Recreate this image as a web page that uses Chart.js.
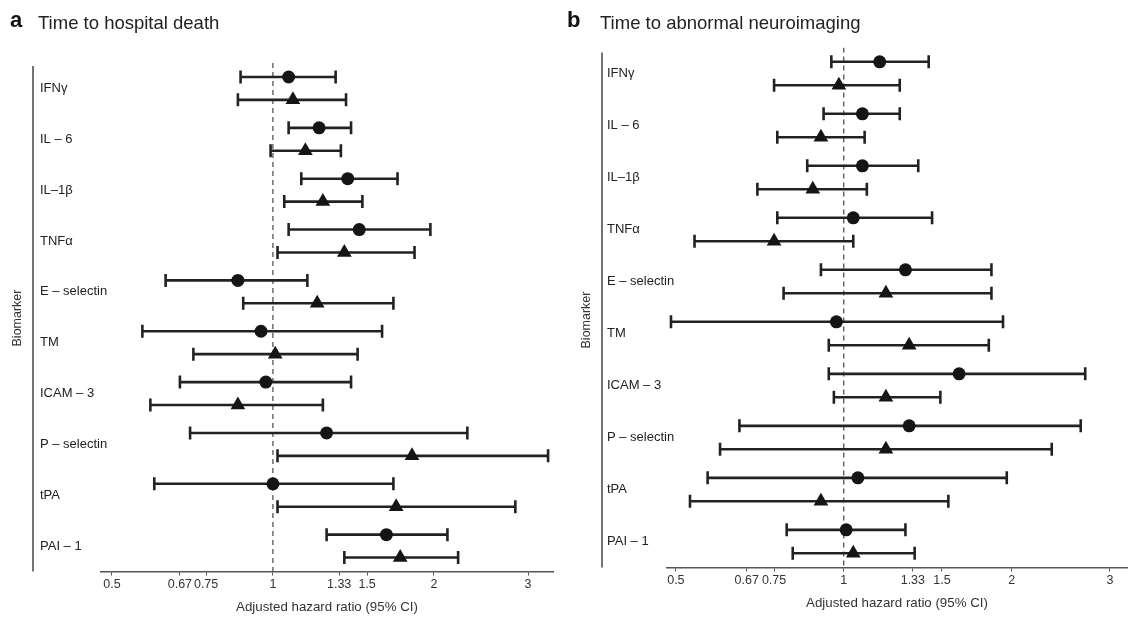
<!DOCTYPE html>
<html><head><meta charset="utf-8">
<script src="https://cdn.jsdelivr.net/npm/chart.js@4"></script>
<style>
html,body{margin:0;padding:0;background:#fff;}
body{width:1129px;height:617px;position:relative;overflow:hidden;font-family:"Liberation Sans",Arial,sans-serif;}
.panel{position:absolute;top:0;height:617px;}
#pa{left:0;width:560px;}
#pb{left:560px;width:569px;}
.lbl{position:absolute;font-weight:bold;font-size:22px;color:#111;line-height:1;}
.ttl{position:absolute;font-size:18.5px;color:#222;line-height:1;}
</style></head>
<body>
<div class="panel" id="pa"><canvas id="ca"></canvas></div>
<div class="panel" id="pb"><canvas id="cb"></canvas></div>
<div class="lbl" style="left:10px;top:9px">a</div>
<div class="ttl" style="left:38px;top:14px">Time to hospital death</div>
<div class="lbl" style="left:567px;top:9px">b</div>
<div class="ttl" style="left:600px;top:14px">Time to abnormal neuroimaging</div>
<script>
const biomarkers = ['IFNγ','IL – 6','IL–1β','TNFα','E – selectin','TM','ICAM – 3','P – selectin','tPA','PAI – 1'];
const tickValues = [0.5,0.67,0.75,1,1.33,1.5,2,3];
const tickLabels = ['0.5','0.67','0.75','1','1.33','1.5','2','3'];
const yTitle = 'Biomarker';
const xTitle = 'Adjusted hazard ratio (95% CI)';
const refValue = 1;

// Panel a: Time to hospital death
const deathCircleHR = [1.07,1.22,1.38,1.45,0.86,0.95,0.97,1.26,1.00,1.63];
const deathCircleLo = [0.87,1.07,1.13,1.07,0.63,0.57,0.67,0.70,0.60,1.26];
const deathCircleHi = [1.31,1.40,1.71,1.97,1.16,1.60,1.40,2.31,1.68,2.12];
const deathTriHR    = [1.09,1.15,1.24,1.36,1.21,1.01,0.86,1.82,1.70,1.73];
const deathTriLo    = [0.86,0.99,1.05,1.02,0.88,0.71,0.59,1.02,1.02,1.36];
const deathTriHi    = [1.37,1.34,1.47,1.84,1.68,1.44,1.24,3.27,2.84,2.22];

// Panel b: Time to abnormal neuroimaging
const neuroCircleHR = [1.16,1.08,1.08,1.04,1.29,0.97,1.61,1.31,1.06,1.01];
const neuroCircleLo = [0.95,0.92,0.86,0.76,0.91,0.49,0.94,0.65,0.57,0.79];
const neuroCircleHi = [1.42,1.26,1.36,1.44,1.84,1.93,2.71,2.66,1.96,1.29];
const neuroTriHR    = [0.98,0.91,0.88,0.75,1.19,1.31,1.19,1.19,0.91,1.04];
const neuroTriLo    = [0.75,0.76,0.70,0.54,0.78,0.94,0.96,0.60,0.53,0.81];
const neuroTriHi    = [1.26,1.09,1.10,1.04,1.84,1.82,1.49,2.36,1.54,1.34];

const FONT = '"Liberation Sans", Arial, sans-serif';
const INK = '#222';

function buildDatasets(cHR,cLo,cHi,tHR,tLo,tHi){
  const off = 0.225;
  const ds = [];
  ds.push({data:[{x:refValue,y:-0.5},{x:refValue,y:biomarkers.length-0.5}], showLine:true,
    borderColor:'#444', borderWidth:1.2, borderDash:[5,4], pointRadius:0, order:3});
  biomarkers.forEach((b,i)=>{
    [[cLo,cHi,i-off],[tLo,tHi,i+off]].forEach(([lo,hi,y])=>{
      ds.push({data:[{x:lo[i],y:y},{x:hi[i],y:y}], showLine:true,
        borderColor:INK, borderWidth:2.6, pointStyle:'line', rotation:90,
        pointRadius:6.5, pointHoverRadius:6.5, pointBorderWidth:2.6, pointBorderColor:INK, order:2});
    });
  });
  ds.push({data:biomarkers.map((b,i)=>({x:cHR[i],y:i-off})), pointStyle:'circle',
    pointRadius:6.5, backgroundColor:'#151515', borderColor:'#151515', borderWidth:0, order:0});
  ds.push({data:biomarkers.map((b,i)=>({x:tHR[i],y:i+off})), pointStyle:'triangle',
    pointRadius:8.5, backgroundColor:'#151515', borderColor:'#151515', borderWidth:0, order:0});
  return ds;
}

const decor = {
  id:'decor',
  afterDraw(chart, args, o){
    const ctx = chart.ctx, ca = chart.chartArea;
    ctx.save();
    ctx.strokeStyle = '#444'; ctx.lineWidth = 1.5;
    ctx.beginPath();
    ctx.moveTo(o.lineX, ca.top + o.topInset);
    ctx.lineTo(o.lineX, ca.bottom);
    ctx.stroke();
    ctx.translate(o.titleX, o.titleY);
    ctx.rotate(-Math.PI/2);
    ctx.textAlign = 'center'; ctx.textBaseline = 'middle';
    ctx.font = '12.5px ' + FONT; ctx.fillStyle = '#333';
    ctx.fillText(yTitle, 0, 0);
    ctx.restore();
  }
};

function makeChart(id, datasets, cfg){
  return new Chart(document.getElementById(id), {
    type:'scatter',
    data:{datasets},
    plugins:[decor],
    options:{
      responsive:true, maintainAspectRatio:false, animation:false,
      layout:{padding:cfg.padding, autoPadding:false},
      plugins:{legend:{display:false}, tooltip:{enabled:false},
        decor:{lineX:cfg.lineX, topInset:cfg.topInset, titleX:cfg.titleX, titleY:cfg.titleY}},
      scales:{
        x:{type:'logarithmic', min:cfg.xmin, max:cfg.xmax,
          afterBuildTicks:s=>{ s.ticks = tickValues.map(v=>({value:v})); },
          afterFit:s=>{ s.paddingLeft = 0; s.paddingRight = 0; },
          ticks:{callback:(v)=>tickLabels[tickValues.indexOf(v)], font:{size:12.5, family:FONT}, color:'#333',
            padding:2, autoSkip:false, maxRotation:0},
          grid:{drawOnChartArea:false, drawTicks:true, tickLength:4, color:'#555', lineWidth:1},
          border:{color:'#555', width:1.5},
          title:{display:true, text:xTitle, font:{size:13.3, family:FONT}, color:'#333', padding:{top:5,bottom:0}}
        },
        y:{type:'linear', reverse:true, min:-0.5, max:biomarkers.length-0.5,
          afterBuildTicks:s=>{ s.ticks = biomarkers.map((b,i)=>({value:i})); },
          afterFit:s=>{ s.width = cfg.yWidth; s.paddingTop = 0; s.paddingBottom = 0; },
          ticks:{callback:(v)=>biomarkers[v], mirror:true, crossAlign:'near', padding:-cfg.yWidth,
            font:{size:13, family:FONT}, color:'#222', autoSkip:false},
          grid:{display:false}, border:{display:false}
        }
      }
    }
  });
}

makeChart('ca', buildDatasets(deathCircleHR,deathCircleLo,deathCircleHi,deathTriHR,deathTriLo,deathTriHi), {
  padding:{left:40, right:7, top:63, bottom:1.5}, yWidth:61, xmin:0.477, xmax:3.34,
  lineX:33, topInset:3, titleX:18, titleY:318
});
makeChart('cb', buildDatasets(neuroCircleHR,neuroCircleLo,neuroCircleHi,neuroTriHR,neuroTriLo,neuroTriHi), {
  padding:{left:47, right:2, top:47.5, bottom:5.5}, yWidth:60, xmin:0.482, xmax:3.22,
  lineX:42, topInset:5, titleX:27, titleY:320
});
</script>
</body></html>
